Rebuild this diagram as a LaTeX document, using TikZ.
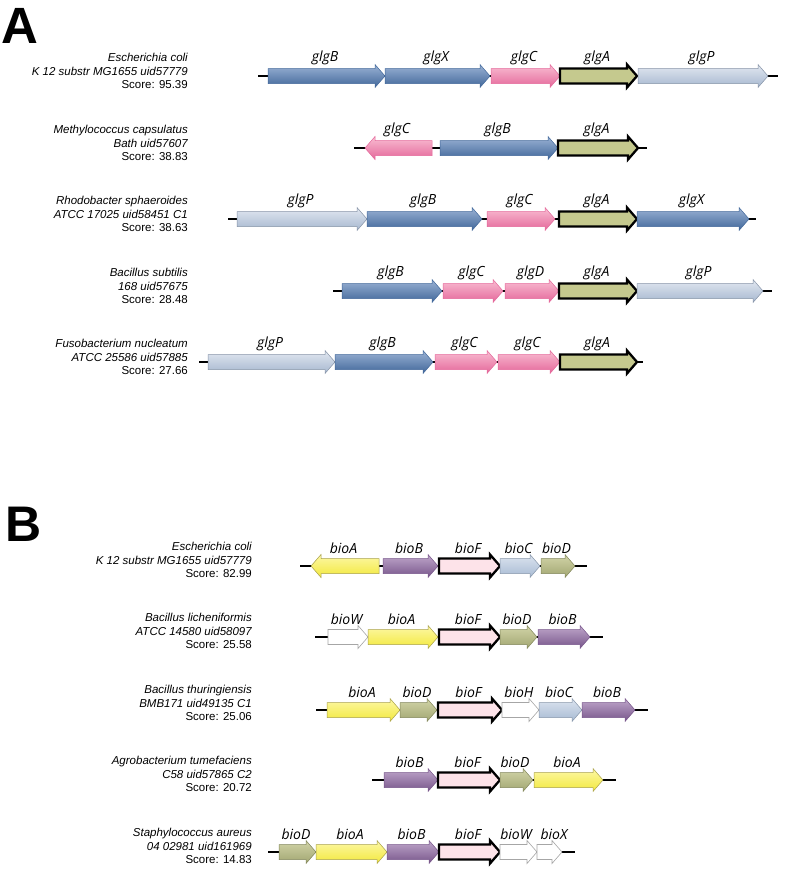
\documentclass[tikz,border=0pt]{standalone}
\usepackage{fontspec}
\setmainfont{Liberation Sans}
\newfontfamily\genefont{Open Sans}
\usetikzlibrary{shadings}
\newcounter{gcnt}
\definecolor{cbluelt}{HTML}{9AB2D4}
\definecolor{cbluedk}{HTML}{41679A}
\definecolor{cpinklt}{HTML}{F9BDD2}
\definecolor{cpinkdk}{HTML}{E4679A}
\definecolor{cgreylt}{HTML}{E2E8F1}
\definecolor{cgreydk}{HTML}{A6B7CF}
\definecolor{colive}{HTML}{C5C98E}
\definecolor{cpinkF}{HTML}{FDE3E9}
\definecolor{cyellt}{HTML}{FDF8A6}
\definecolor{cyel}{HTML}{F2E83C}
\definecolor{cyeldk}{HTML}{A8A04A}
\definecolor{cpurplt}{HTML}{BFA7CB}
\definecolor{cpurpdk}{HTML}{77558A}
\definecolor{ccblult}{HTML}{DCE4EF}
\definecolor{ccbludk}{HTML}{A7BAD3}
\definecolor{colvlt}{HTML}{D2D4A8}
\definecolor{colvdk}{HTML}{A1A671}
\tikzset{
  glab/.style={font=\genefont\itshape\fontsize{14}{14}\selectfont, inner sep=0pt, anchor=base},
  spc/.style={anchor=east, align=right, inner sep=0pt, font=\fontsize{11.5}{13.2}\selectfont},
  bb/.style={line width=1.6pt, black},
  bluea/.style={draw=cbluedk, line width=0.5pt, top color=cbluelt, bottom color=cbluedk},
  pinka/.style={draw=cpinkdk, line width=0.5pt, top color=cpinklt, bottom color=cpinkdk},
  greya/.style={draw=cgreydk!80!black, line width=0.5pt, top color=cgreylt, bottom color=cgreydk},
  bolda/.style={draw=black, line width=2.3pt, line join=miter, fill=#1},
  yela/.style={draw=cyeldk, line width=0.5pt, top color=cyellt, bottom color=cyel},
  purpa/.style={draw=cpurpdk, line width=0.5pt, top color=cpurplt, bottom color=cpurpdk},
  cblua/.style={draw=ccbludk!80!black, line width=0.5pt, top color=ccblult, bottom color=ccbludk},
  olva/.style={draw=colvdk!80!black, line width=0.5pt, top color=colvlt, bottom color=colvdk},
  whta/.style={draw=gray!70, line width=0.6pt, fill=white},
}
\newcommand\laboff{-15}
\newcommand\genearrow[6][0]{%
  \stepcounter{gcnt}%
  \pgfmathsetmacro\gdir{(#4>#3)?1:-1}%
  \pgfmathsetmacro\gneck{#4-\gdir*10}%
  \pgfmathsetmacro\gmid{(#3+#4)/2-1.5+#1}%
  \draw[#2] (#3,#5-7.5) -- (\gneck,#5-7.5) -- (\gneck,#5-11.5) -- (#4,#5) -- (\gneck,#5+11.5) -- (\gneck,#5+7.5) -- (#3,#5+7.5) -- cycle;
  \node[glab] (lab\arabic{gcnt}) at (\gmid,#5+\laboff) {#6};
}
\newcommand\backbone[4]{%
  \coordinate (#1s) at (#2,#4);
  \coordinate (#1e) at (#3,#4);
  \draw[bb] (#1s) -- (#1e);
}
\begin{document}
\begin{tikzpicture}[x=1pt,y=-1pt]
\useasboundingbox (0,0) rectangle (785,870);
% panel letters
\node[anchor=north west, inner sep=0pt, font=\bfseries\fontsize{51}{51}\selectfont] (letA) at (1,8) {A};
\node[anchor=north west, inner sep=0pt, font=\bfseries\fontsize{50}{50}\selectfont] (letB) at (5,507) {B};

% ---------------- Panel A ----------------
\node[spc] (spA1) at (188,71) {\itshape Escherichia coli\\ \itshape K 12 substr MG1655 uid57779\\ Score: 95.39};
\backbone{rA1}{258}{778}{76}
\genearrow{bluea}{268}{385}{76}{glgB}
\genearrow{bluea}{385}{490}{76}{glgX}
\genearrow{pinka}{491}{560}{76}{glgC}
\genearrow{bolda=colive}{560}{637}{76}{glgA}
\genearrow{greya}{638}{768}{76}{glgP}

\node[spc] (spA2) at (188,143) {\itshape Methylococcus capsulatus\\ \itshape Bath uid57607\\ Score: 38.83};
\backbone{rA2}{354}{647}{148}
\genearrow{pinka}{432}{365}{148}{glgC}
\genearrow{bluea}{440}{558}{148}{glgB}
\genearrow{bolda=colive}{558}{638}{148}{glgA}

\node[spc] (spA3) at (188,214) {\itshape Rhodobacter sphaeroides\\ \itshape ATCC 17025 uid58451 C1\\ Score: 38.63};
\backbone{rA3}{228}{756}{219}
\genearrow{greya}{237}{367}{219}{glgP}
\genearrow{bluea}{367}{482}{219}{glgB}
\genearrow{pinka}{487}{555}{219}{glgC}
\genearrow{bolda=colive}{559}{637}{219}{glgA}
\genearrow{bluea}{637}{749}{219}{glgX}

\node[spc] (spA4) at (188,286) {\itshape Bacillus subtilis\\ \itshape 168 uid57675\\ Score: 28.48};
\backbone{rA4}{333}{772}{291}
\genearrow{bluea}{342}{442}{291}{glgB}
\genearrow{pinka}{443}{503}{291}{glgC}
\genearrow{pinka}{505}{559}{291}{glgD}
\genearrow{bolda=colive}{559}{637}{291}{glgA}
\genearrow{greya}{637}{763}{291}{glgP}

\node[spc] (spA5) at (188,357) {\itshape Fusobacterium nucleatum\\ \itshape ATCC 25586 uid57885\\ Score: 27.66};
\backbone{rA5}{199}{643}{362}
\genearrow{greya}{208}{335}{362}{glgP}
\genearrow{bluea}{335}{433}{362}{glgB}
\genearrow{pinka}{435}{497}{362}{glgC}
\genearrow{pinka}{498}{560}{362}{glgC}
\genearrow{bolda=colive}{560}{637}{362}{glgA}

% ---------------- Panel B ----------------
\renewcommand\laboff{-13}
\node[spc] (spB1) at (252,560) {\itshape Escherichia coli\\ \itshape K 12 substr MG1655 uid57779\\ Score: 82.99};
\backbone{rB1}{300}{587}{566}
\genearrow{yela}{379}{311}{566}{bioA}
\genearrow{purpa}{383}{438}{566}{bioB}
\genearrow{bolda=cpinkF}{439}{500}{566}{bioF}
\genearrow{cblua}{500}{540}{566}{bioC}
\genearrow{olva}{541}{575}{566}{bioD}

\node[spc] (spB2) at (252,631) {\itshape Bacillus licheniformis\\ \itshape ATCC 14580 uid58097\\ Score: 25.58};
\backbone{rB2}{315}{603}{637}
\genearrow{whta}{328}{368}{637}{bioW}
\genearrow{yela}{368}{438}{637}{bioA}
\genearrow{bolda=cpinkF}{439}{500}{637}{bioF}
\genearrow{olva}{500}{537}{637}{bioD}
\genearrow{purpa}{538}{590}{637}{bioB}

\node[spc] (spB3) at (252,703) {\itshape Bacillus thuringiensis\\ \itshape BMB171 uid49135 C1\\ Score: 25.06};
\backbone{rB3}{316}{648}{710}
\genearrow{yela}{327}{400}{710}{bioA}
\genearrow{olva}{400}{437}{710}{bioD}
\genearrow{bolda=cpinkF}{438}{502}{710}{bioF}
\genearrow{whta}{502}{539}{710}{bioH}
\genearrow{cblua}{539}{582}{710}{bioC}
\genearrow{purpa}{582}{635}{710}{bioB}

\node[spc] (spB4) at (252,774) {\itshape Agrobacterium tumefaciens\\ \itshape C58 uid57865 C2\\ Score: 20.72};
\backbone{rB4}{372}{616}{780}
\genearrow{purpa}{384}{438}{780}{bioB}
\genearrow{bolda=cpinkF}{438}{500}{780}{bioF}
\genearrow{olva}{500}{533}{780}{bioD}
\genearrow{yela}{534}{603}{780}{bioA}

\node[spc] (spB5) at (252,846) {\itshape Staphylococcus aureus\\ \itshape 04 02981 uid161969\\ Score: 14.83};
\backbone{rB5}{268}{575}{852}
\genearrow{olva}{279}{316}{852}{bioD}
\genearrow{yela}{316}{387}{852}{bioA}
\genearrow{purpa}{387}{439}{852}{bioB}
\genearrow{bolda=cpinkF}{439}{500}{852}{bioF}
\genearrow[-1]{whta}{500}{537}{852}{bioW}
\genearrow[6]{whta}{537}{562}{852}{bioX}
\end{tikzpicture}
\end{document}
